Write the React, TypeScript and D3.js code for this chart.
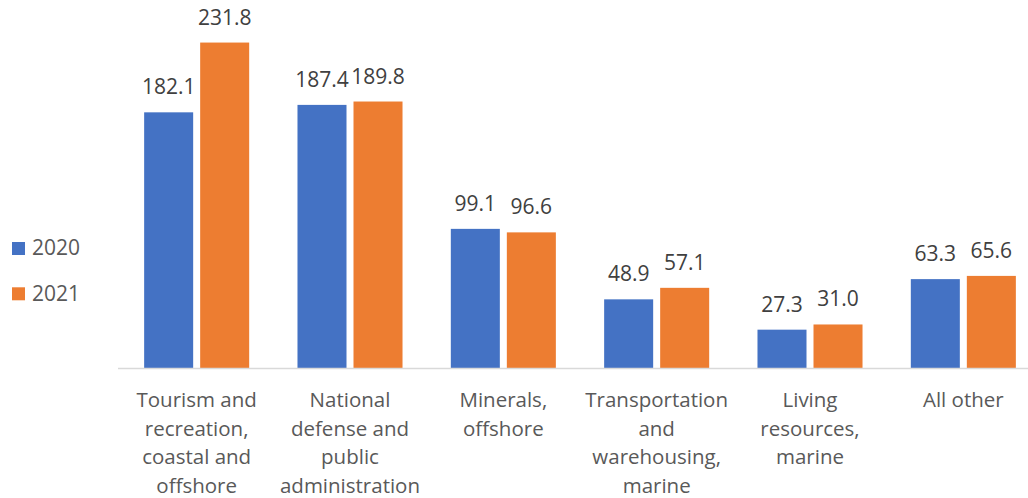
import React from "react";
import * as d3 from "d3";

const categories: string[][] = [
  ["Tourism and", "recreation,", "coastal and", "offshore"],
  ["National", "defense and", "public", "administration"],
  ["Minerals,", "offshore"],
  ["Transportation", "and", "warehousing,", "marine"],
  ["Living", "resources,", "marine"],
  ["All other"],
];
const seriesNames = ["2020", "2021"];
const values2020 = [182.1, 187.4, 99.1, 48.9, 27.3, 63.3];
const values2021 = [231.8, 189.8, 96.6, 57.1, 31.0, 65.6];
const colors = ["#4472C4", "#ED7D31"];

const W = 1028;
const H = 498;
const FONT = "'Open Sans', 'Noto Sans', sans-serif";

export default function App() {
  const keys = categories.map((_, i) => String(i));
  const x0 = d3.scaleBand<string>().domain(keys).range([120, 1040]).paddingInner(0.315).paddingOuter(0.1575);
  const x1 = d3.scaleBand<string>().domain(seriesNames).range([0, x0.bandwidth()]).paddingInner(0.125).paddingOuter(0);
  const y = d3.scaleLinear().domain([0, 250]).range([368, 17]);
  const series = [values2020, values2021];

  return (
    <svg width={W} height={H} style={{ position: "absolute", left: 0, top: 0, background: "#fff" }} fontFamily={FONT}>
      <rect width={W} height={H} fill="#fff" />
      {series.map((vals, si) =>
        vals.map((v, ci) => {
          const bx = (x0(keys[ci]) ?? 0) + (x1(seriesNames[si]) ?? 0);
          return (
            <g key={`${si}-${ci}`}>
              <rect x={bx} y={y(v)} width={x1.bandwidth()} height={y(0) - y(v)} fill={colors[si]} />
              <text x={bx + x1.bandwidth() / 2} y={y(v) - 18} textAnchor="middle" fontSize={21} fill="#404040">
                {v.toFixed(1)}
              </text>
            </g>
          );
        })
      )}
      <line x1={118} x2={1028} y1={368.5} y2={368.5} stroke="#D9D9D9" strokeWidth={1.5} />
      {categories.map((lines, ci) => (
        <text key={ci} textAnchor="middle" fontSize={20.5} fill="#595959">
          {lines.map((ln, li) => (
            <tspan key={li} x={(x0(keys[ci]) ?? 0) + x0.bandwidth() / 2} y={407 + li * 28.7}>
              {ln}
            </tspan>
          ))}
        </text>
      ))}
      {seriesNames.map((name, si) => (
        <g key={name}>
          <rect x={12} y={242 + si * 45.3} width={13} height={13} fill={colors[si]} />
          <text x={32} y={255.3 + si * 45.3} fontSize={21} fill="#595959">
            {name}
          </text>
        </g>
      ))}
    </svg>
  );
}
